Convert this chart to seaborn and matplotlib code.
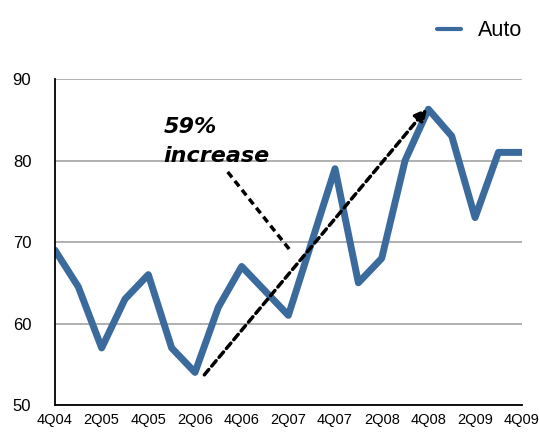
import pandas as pd
import matplotlib.pyplot as plt
import seaborn as sns

# quarterly values, 4Q04 .. 4Q09
quarters = ['4Q04', '1Q05', '2Q05', '3Q05', '4Q05', '1Q06', '2Q06', '3Q06',
            '4Q06', '1Q07', '2Q07', '3Q07', '4Q07', '1Q08', '2Q08', '3Q08',
            '4Q08', '1Q09', '2Q09', '3Q09', '4Q09']
auto = [69, 64.5, 57, 63, 66, 57, 54, 62, 67, 64, 61, 70, 79, 65, 68, 80,
        86.3, 83, 73, 81, 81]
y_ticks = [50, 60, 70, 80, 90]

df = pd.DataFrame({'idx': range(len(quarters)), 'Quarter': quarters, 'Auto': auto})

sns.set_style('white')
plt.rcParams['font.family'] = ['Liberation Sans', 'DejaVu Sans']
plt.rcParams['text.color'] = 'black'
plt.rcParams['xtick.color'] = 'black'
plt.rcParams['ytick.color'] = 'black'

fig = plt.figure(figsize=(5.39, 4.32), dpi=100)
ax = fig.add_axes([0.102, 0.0625, 0.866, 0.7545])

sns.lineplot(data=df, x='idx', y='Auto', ax=ax, color='#3B6B9C',
             linewidth=5, label='Auto')

ax.set_xlim(0, len(quarters) - 1)
ax.set_ylim(50, 90)
ax.set_yticks(y_ticks)
ax.set_xticks(df['idx'][::2])
ax.set_xticklabels(df['Quarter'][::2])
ax.set_xlabel('')
ax.set_ylabel('')
ax.tick_params(axis='y', length=0, pad=17, labelsize=12)
ax.tick_params(axis='x', length=0, pad=6, labelsize=10.5)

ax.grid(axis='y', color='#AAAAAA', linewidth=1.3)
ax.set_axisbelow(True)
for side in ['top', 'right']:
    ax.spines[side].set_visible(False)
for side in ['left', 'bottom']:
    ax.spines[side].set_color('black')
    ax.spines[side].set_linewidth(1.3)

# annotation: 59% increase
ax.text(4.65, 79.3, '59%\nincrease', fontsize=16, fontweight='bold',
        fontstyle='italic', family='DejaVu Sans', color='black',
        va='bottom', ha='left', linespacing=1.6)
ax.annotate('', xy=(15.95, 86.4), xytext=(6.4, 53.7),
            arrowprops=dict(arrowstyle='-|>', color='black', lw=2.5,
                            linestyle=(0, (2, 1.3)), mutation_scale=18,
                            shrinkA=0, shrinkB=0))
ax.plot([7.4, 10.1], [78.6, 68.9], color='black', lw=2.5,
        linestyle=(0, (2, 1.3)))

leg = ax.legend(loc='center right', bbox_to_anchor=(522 / 539, 1 - 31 / 432),
                bbox_transform=fig.transFigure, frameon=False, fontsize=15.5,
                handlelength=1.1, handletextpad=0.8, borderpad=0,
                borderaxespad=0)
leg.get_lines()[0].set_linewidth(3)

plt.savefig('out.png', dpi=100)
